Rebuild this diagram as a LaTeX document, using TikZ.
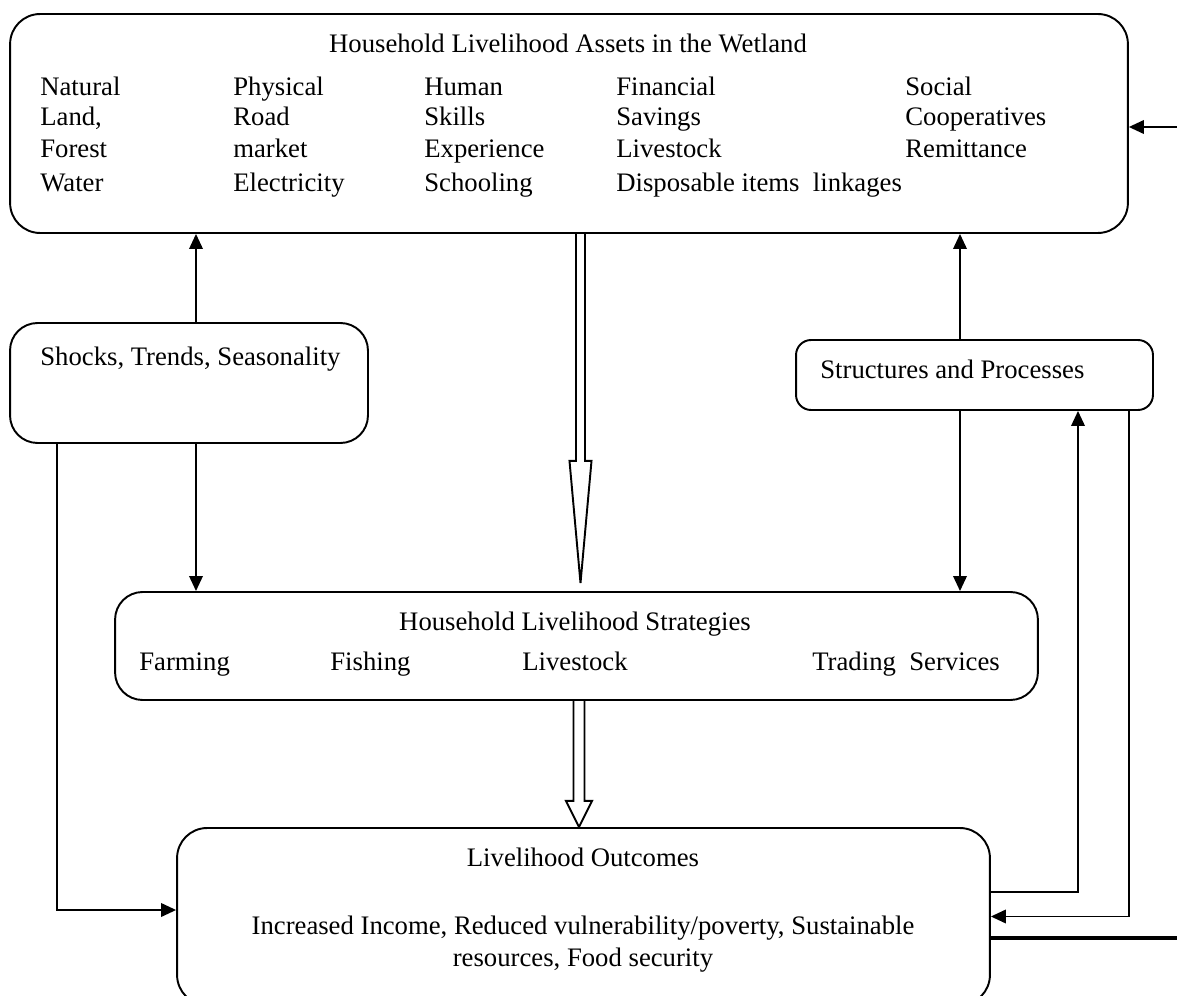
\documentclass[tikz,border=0pt]{standalone}
\usepackage{fontspec}
\setmainfont{Liberation Serif}
\usetikzlibrary{arrows.meta, calc}

\begin{document}
\begin{tikzpicture}[
        x=0.02cm, y=-0.02cm,
        box/.style={rectangle, rounded corners=#1, draw, line width=1.1pt, inner sep=0pt},
        box/.default=0.6cm,
        txt/.style={inner sep=0pt, anchor=base west, font=\fontsize{15.2}{18}\selectfont},
        ctxt/.style={txt, anchor=base},
        arrowline/.style={-{Triangle[length=0.3cm, width=0.27cm]}, line width=1.1pt},
        hollow/.style={draw, line width=1.1pt, line join=miter}
    ]
        \clip (0,0) rectangle (1177,996);
        % boxes
        \node[box, minimum width=22.36cm, minimum height=4.38cm] (assets) at (569,123.5) {};
        \node[box=0.55cm, minimum width=7.16cm, minimum height=2.4cm] (shocks) at (189,383) {};
        \node[box=0.3cm, minimum width=7.14cm, minimum height=1.4cm] (structures) at (974.5,375) {};
        \node[box=0.55cm, minimum width=18.46cm, minimum height=2.16cm] (strategies) at (576.5,646) {};
        \node[box, minimum width=16.26cm, minimum height=3.54cm] (outcomes) at (583.5,916.5) {};

        % assets text
        \node[ctxt] (assetstitle) at (568,53) {Household Livelihood Assets in the Wetland};
        \node[txt] (nat1) at (40,96) {Natural};
        \node[txt] (nat2) at (40,126) {Land,};
        \node[txt] (nat3) at (40,158) {Forest};
        \node[txt] (nat4) at (40,192) {Water};
        \node[txt] (phy1) at (233,96) {Physical};
        \node[txt] (phy2) at (233,126) {Road};
        \node[txt] (phy3) at (233,158) {market};
        \node[txt] (phy4) at (233,192) {Electricity};
        \node[txt] (hum1) at (424,96) {Human};
        \node[txt] (hum2) at (424,126) {Skills};
        \node[txt] (hum3) at (424,158) {Experience};
        \node[txt] (hum4) at (424,192) {Schooling};
        \node[txt] (fin1) at (616,96) {Financial};
        \node[txt] (fin2) at (616,126) {Savings};
        \node[txt] (fin3) at (616,158) {Livestock};
        \node[txt] (fin4) at (616,192) {Disposable items\enspace linkages};
        \node[txt] (soc1) at (905,96) {Social};
        \node[txt] (soc2) at (905,126) {Cooperatives};
        \node[txt] (soc3) at (905,158) {Remittance};

        \node[txt] (shockstxt) at (40,366) {Shocks, Trends, Seasonality};
        \node[txt] (structurestxt) at (820,379) {Structures and Processes};

        % strategies text
        \node[ctxt] (strategiestitle) at (575,631) {Household Livelihood Strategies};
        \node[txt] (farming) at (139,671) {Farming};
        \node[txt] (fishing) at (330,671) {Fishing};
        \node[txt] (livestock) at (522,671) {Livestock};
        \node[txt] (trading) at (812,671) {Trading\enspace Services};

        % outcomes text
        \node[ctxt] (outcomestitle) at (583,866) {Livelihood Outcomes};
        \node[ctxt] (outcomes1) at (583,934) {Increased Income, Reduced vulnerability/poverty, Sustainable};
        \node[ctxt] (outcomes2) at (583,966) {resources, Food security};

        % connectors
        \coordinate (s1) at ($(shocks.north)+(7,0)$);
        \coordinate (s2) at ($(shocks.south)+(7,0)$);
        \coordinate (s3) at ($(shocks.south west)+(48,0)$);
        \coordinate (p1) at ($(structures.north)+(-14.5,0)$);
        \coordinate (p2) at ($(structures.south)+(-14.5,0)$);
        \coordinate (p3) at ($(structures.south)+(103.5,0)$);
        \coordinate (p4) at ($(structures.south east)+(-25,0)$);
        \coordinate (loopin) at (1177,127);
        \coordinate (loopout) at (1177,938);

        \draw[arrowline] (s1) -- (s1 |- assets.south);
        \draw[arrowline] (p1) -- (p1 |- assets.south);
        \draw[arrowline] (s2) -- (s2 |- strategies.north);
        \draw[arrowline] (p2) -- (p2 |- strategies.north);
        \draw[arrowline] (s3) |- ($(outcomes.west)+(0,-6.5)$);
        \draw[arrowline] ($(outcomes.east)+(0,-24.5)$) -| (p3);
        \draw[arrowline] (p4) |- (outcomes.east);
        \draw[line width=1.8pt] (outcomes.east |- loopout) -- (loopout);
        \draw[arrowline] (loopin) -- (loopin -| assets.east);

        % hollow arrows
        \coordinate (a1) at ($(assets.south -| strategies.north)+(4,0)$);
        \coordinate (a2) at ($(strategies.north)+(4,-8)$);
        \draw[hollow] ($(a1)+(-4.5,0)$) -- ($(a1)+(-4.5,227)$) -- ($(a1)+(-11,227)$)
            -- (a2) -- ($(a1)+(11,227)$) -- ($(a1)+(4.5,227)$) -- ($(a1)+(4.5,0)$);
        \coordinate (b1) at ($(strategies.south)+(2.5,0)$);
        \draw[hollow] ($(b1)+(-5.5,0)$) -- ($(b1)+(-5.5,100)$) -- ($(b1)+(-13,100)$)
            -- (b1 |- outcomes.north) -- ($(b1)+(13,100)$) -- ($(b1)+(5.5,100)$) -- ($(b1)+(5.5,0)$);
    \end{tikzpicture}
\end{document}
